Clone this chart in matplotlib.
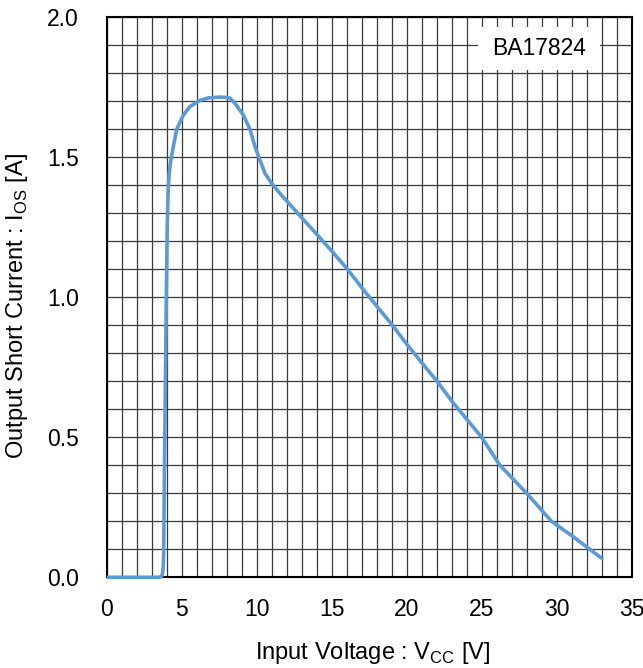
import numpy as np
import matplotlib
matplotlib.use("Agg")
import matplotlib.pyplot as plt
from matplotlib.ticker import MultipleLocator
from matplotlib.patches import Rectangle

plt.rcParams['font.family'] = ['Liberation Sans', 'DejaVu Sans']
plt.rcParams['mathtext.fontset'] = 'custom'
plt.rcParams['mathtext.rm'] = 'Liberation Sans'

# Input voltage [V] vs output short current [A]
vcc = [0.0, 1.0, 2.0, 3.0, 3.5, 3.62, 3.7, 3.76, 3.8, 3.85, 3.91, 3.97,
       4.04, 4.1, 4.17, 4.25, 4.33, 4.44, 4.67, 5.11, 5.55, 6.2, 6.77, 7.5,
       7.9, 8.2, 8.55, 9.11, 9.55, 9.89, 10.22, 10.55, 11.0, 11.55, 12.44,
       13.04, 14.04, 15.04, 16.04, 17.04, 18.04, 19.04, 20.04, 21.04, 22.04,
       23.04, 24.04, 25.0, 26.2, 28.0, 29.67, 31.1, 32.2, 33.1]
ios = [0.0, 0.0, 0.0, 0.0, 0.0, 0.002, 0.008, 0.03, 0.08, 0.38, 0.67, 0.97,
       1.264, 1.38, 1.443, 1.48, 1.505, 1.538, 1.60, 1.651, 1.681, 1.703,
       1.712, 1.715, 1.714, 1.712, 1.693, 1.651, 1.60, 1.538, 1.49, 1.443,
       1.407, 1.371, 1.318, 1.282, 1.223, 1.163, 1.101, 1.032, 0.966, 0.901,
       0.83, 0.764, 0.699, 0.627, 0.562, 0.50, 0.401, 0.30, 0.199, 0.145,
       0.10, 0.064]

fig = plt.figure(figsize=(6.43, 6.68), dpi=100)
ax = fig.add_axes([0.1659, 0.1358, 0.8165, 0.8383])

ax.plot(vcc, ios, color='#5B9BD5', lw=2.6, zorder=6, clip_on=False,
        solid_capstyle='butt', solid_joinstyle='round')

ax.set_xlim(0, 35)
ax.set_ylim(0, 2.0)
ax.xaxis.set_major_locator(MultipleLocator(5))
ax.xaxis.set_minor_locator(MultipleLocator(1))
ax.yaxis.set_major_locator(MultipleLocator(0.5))
ax.yaxis.set_minor_locator(MultipleLocator(0.1))
ax.yaxis.set_major_formatter(plt.FormatStrFormatter('%.1f'))
ax.grid(which='both', color='#3a3a3a', lw=0.9)
ax.set_axisbelow(True)
ax.tick_params(which='both', length=0, labelsize=16.5, colors='black')
ax.tick_params(axis='x', pad=15)
ax.tick_params(axis='y', pad=20)
for s in ax.spines.values():
    s.set_linewidth(1.5)
    s.set_color('black')
    s.set_zorder(4)

fig.text(373 / 643, 0.022, r'Input Voltage : V$_{\mathrm{CC}}$ [V]', fontsize=17,
         ha='center', va='center')
fig.text(17.5 / 643, 0.542, r'Output Short Current : I$_{\mathrm{OS}}$ [A]', fontsize=17,
         ha='center', va='center', rotation=90)

ax.add_patch(Rectangle((24.75, 1.812), 8.15, 0.153, facecolor='white',
                       edgecolor='none', zorder=2.5))
ax.text(28.8, 1.888, 'BA17824', fontsize=16.5, ha='center', va='center', zorder=5)

fig.savefig('out.png', dpi=100)
